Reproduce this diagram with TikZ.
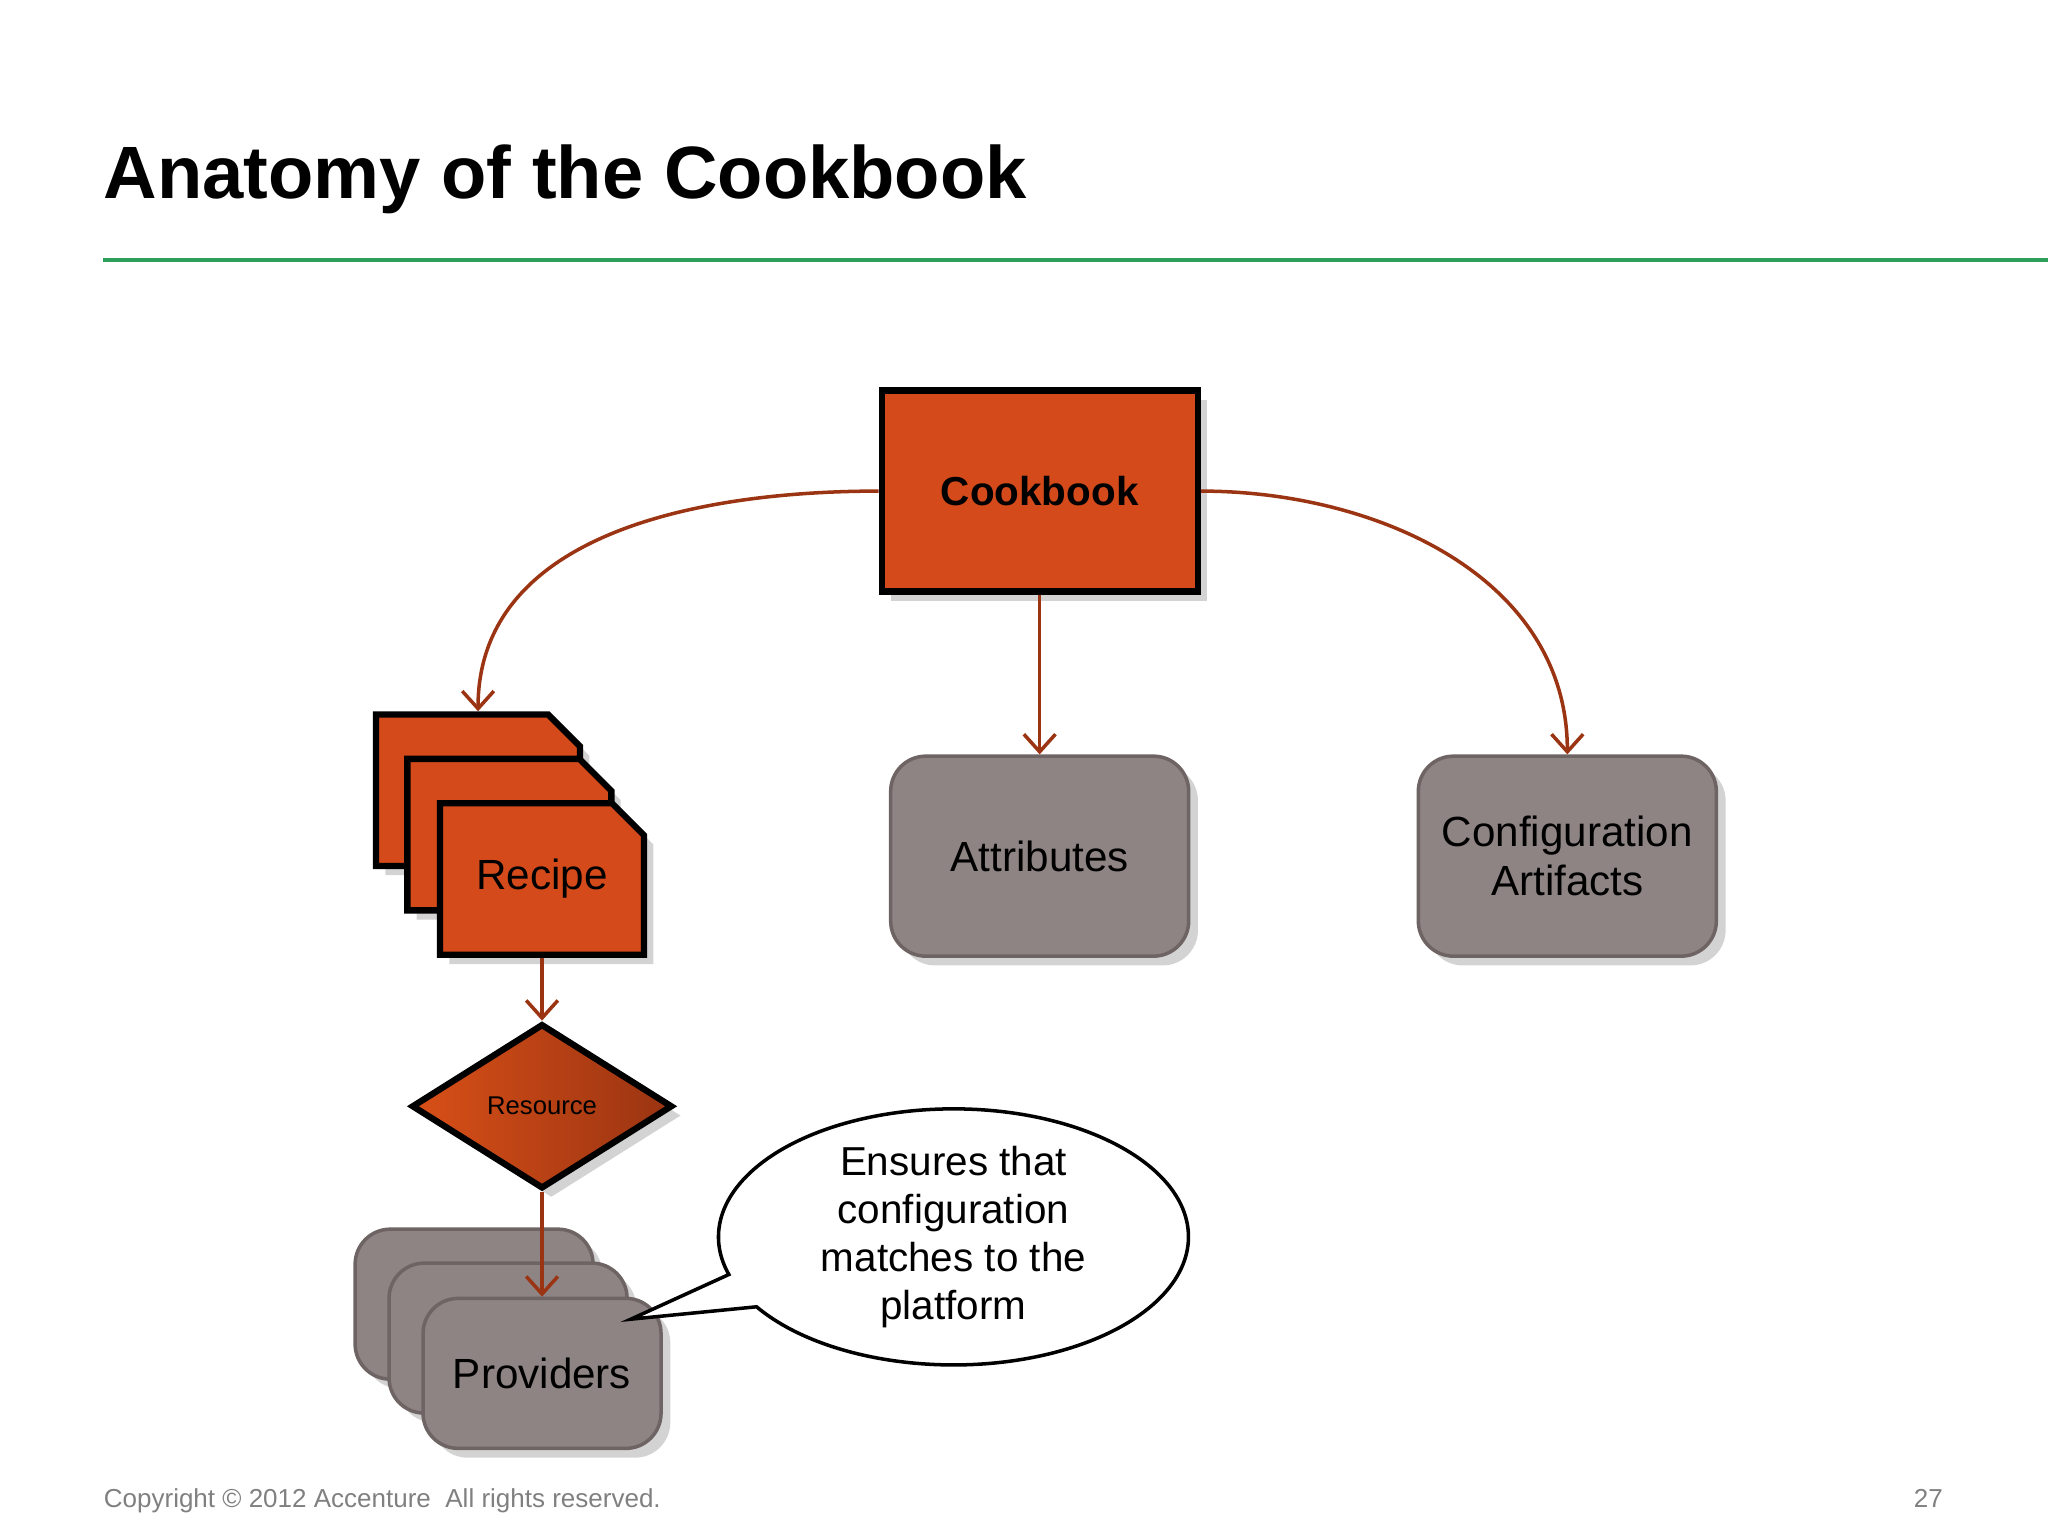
\documentclass[tikz,border=0pt]{standalone}
\usepackage{fontspec}
\setmainfont{Liberation Sans}
\usetikzlibrary{arrows.meta,shapes.geometric,shapes.misc,shapes.callouts,shadows}
\definecolor{chef}{HTML}{D44A1A}
\definecolor{slate}{HTML}{8F8484}
\definecolor{slateline}{HTML}{6E6464}
\definecolor{rust}{HTML}{9A3412}
\definecolor{rule}{HTML}{2E9E5B}
\begin{document}
\begin{tikzpicture}[x=0.01306cm,y=-0.01306cm]
% Styles
\tikzset{
  orangebox/.style={draw=black,line width=1.8pt,fill=chef,drop shadow={opacity=0.35}},
  greybox/.style={draw=slateline,line width=1pt,fill=slate,rounded corners=10pt,
    drop shadow={opacity=0.35},minimum width=2.98cm,minimum height=2cm,align=center,font=\fontsize{12}{14}\selectfont},
  tag/.style={orangebox,chamfered rectangle,chamfered rectangle corners=north east,
    chamfered rectangle xsep=0.26cm,minimum width=2.04cm,minimum height=1.515cm,inner sep=0pt,
    font=\fontsize{12}{14}\selectfont},
  prov/.style={greybox,minimum width=2.38cm,minimum height=1.5cm},
  link/.style={draw=rust,line width=1pt,-{Straight Barb[length=5pt,width=9pt]}}
}
\useasboundingbox (0,0) rectangle (1568,1176);

% Title and rule
\node[anchor=base west,inner sep=0pt,font=\fontsize{21.1}{24}\selectfont\bfseries] (title) at (79,152) {Anatomy of the Cookbook};
\draw[rule,line width=1pt] (79,199) -- (1568,199);

% Top level
\node[orangebox,minimum width=3.16cm,minimum height=2.01cm,font=\fontsize{11.5}{14}\selectfont\bfseries] (cook) at (796,376) {Cookbook};
\node[greybox] (attr) at (796,655.5) {Attributes};
\node[greybox] (conf) at (1200,655.5) {Configuration\\Artifacts};

% Recipes
\node[tag] (rec1) at (366,605) {\phantom{Recipe}};
\node[tag] (rec2) at (390,639) {\phantom{Recipe}};
\node[tag] (rec3) at (415,673) {Recipe};

% Resource
\node[diamond,draw=black,line width=1.8pt,left color=chef!90!orange,right color=rust,
  minimum width=2.61cm,minimum height=1.65cm,inner sep=0pt,drop shadow={opacity=0.35},
  font=\fontsize{7.3}{9}\selectfont] (res) at (415,847) {Resource};

% Providers
\node[prov] (prov1) at (363,998.5) {};
\node[prov] (prov2) at (389,1024.5) {};
\node[prov] (prov3) at (415,1051.5) {Providers};

% Callout
\coordinate (tip) at (483,1010);
\node[ellipse callout,draw=black,line width=1pt,fill=white,minimum width=4.7cm,minimum height=2.22cm,
  callout absolute pointer={(tip)},callout pointer arc=16,align=center,inner sep=0pt,
  font=\fontsize{11.5}{13.6}\selectfont] (note) at (730,947) {Ensures that\\configuration\\matches to the\\platform};

% Links
\draw[link] (cook.west) to[out=180,in=90] (rec1.north);
\draw[link] (cook.south) -- (attr.north);
\draw[link] (cook.east) to[out=0,in=90] (conf.north);
\draw[link] (rec3.south) -- (res.north);
\draw[link] (res.south) -- (prov3.north);

% Footer
\node[anchor=base west,inner sep=0pt,text=gray,font=\fontsize{7.4}{9}\selectfont] (copy) at (79,1154) {Copyright \textcopyright\ 2012 Accenture\ \ All rights reserved.};
\node[anchor=base east,inner sep=0pt,text=gray,font=\fontsize{7.4}{9}\selectfont] (page) at (1488,1154) {27};
\end{tikzpicture}
\end{document}
